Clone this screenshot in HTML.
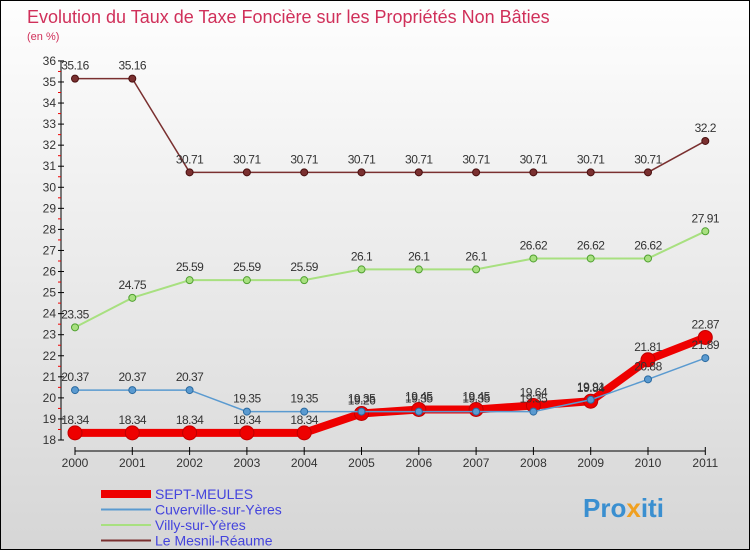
<!DOCTYPE html>
<html><head><meta charset="utf-8"><style>
body{margin:0;width:750px;height:550px;overflow:hidden;font-family:"Liberation Sans",sans-serif}
#wrap{position:relative;width:748px;height:548px;border:1px solid #000;background:linear-gradient(#fefefe,#d6d6d6)}
</style></head><body>
<div id="wrap">
<svg id="c" width="748" height="548">
<text x="26" y="22" font-size="18" fill="#d0305a">Evolution du Taux de Taxe Foncière sur les Propriétés Non Bâties</text>
<text x="26" y="39" font-size="11" fill="#d0305a">(en %)</text>
<g id="axes"></g><g id="series"></g><g id="legend"></g>
<text x="582" y="516" font-size="26" font-weight="bold" fill="#3a8fd0">Pro<tspan fill="#f0a020">x</tspan>iti</text>
</svg></div>
<script>
const years=["2000","2001","2002","2003","2004","2005","2006","2007","2008","2009","2010","2011"];
const yTicks=[18,19,20,21,22,23,24,25,26,27,28,29,30,31,32,33,34,35,36];
const sept=[18.34,18.34,18.34,18.34,18.34,19.26,19.45,19.45,19.64,19.84,21.81,22.87];
const cuver=[20.37,20.37,20.37,19.35,19.35,19.35,19.35,19.35,19.35,19.91,20.88,21.89];
const villy=[23.35,24.75,25.59,25.59,25.59,26.1,26.1,26.1,26.62,26.62,26.62,27.91];
const mesnil=[35.16,35.16,30.71,30.71,30.71,30.71,30.71,30.71,30.71,30.71,30.71,32.2];
const NS="http://www.w3.org/2000/svg";
const X=i=>74+i*57.3, Y=v=>439-(v-18)*21.06;
function mk(t,a,p){const e=document.createElementNS(NS,t);for(const k in a)e.setAttribute(k,a[k]);p.appendChild(e);return e;}
const ax=document.getElementById('axes');
const yl=mk('line',{x1:60,y1:Y(36),x2:60,y2:Y(18),stroke:'#000'},ax);


yTicks.forEach(v=>{
 mk('line',{x1:57,x2:63,y1:Y(v),y2:Y(v),stroke:'#000'},ax);
 if(v<36)mk('line',{x1:57,x2:60,y1:Y(v+0.5),y2:Y(v+0.5),stroke:'#e00'},ax);
 const t=mk('text',{x:55,y:Y(v)+4,'font-size':12,'text-anchor':'end',fill:'#333'},ax);t.textContent=v;
 
 
});
const xl=mk('line',{x1:X(0),x2:X(11),y1:450,y2:450,stroke:'#000'},ax);


years.forEach((y,i)=>{
 mk('line',{x1:X(i),x2:X(i),y1:446,y2:454,stroke:'#000'},ax);
 const t=mk('text',{x:X(i),y:466,'font-size':12,'text-anchor':'middle',fill:'#333'},ax);t.textContent=y;
 
 
});
const sg=document.getElementById('series');
function draw(data,color,w,r,name,dark){
 const g=mk('g',{},sg);
 
 
 mk('polyline',{points:data.map((v,i)=>X(i)+','+Y(v)).join(' '),fill:'none',stroke:color,'stroke-width':w},g);
 data.forEach((v,i)=>{
  const c=mk('circle',{cx:X(i),cy:Y(v),r:r,fill:color,stroke:dark,'stroke-width':1},g);
  
  
  const t=mk('text',{x:X(i),y:Y(v)-9,'font-size':12,'text-anchor':'middle',fill:'#333','letter-spacing':'-0.5'},g);t.textContent=v;
 });
}
draw(mesnil,'#7a3030',1.5,3.5,'le-mesnil-reaume','#4a1010');
draw(villy,'#a8e080',2,3.5,'villy-sur-yeres','#50a030');
draw(sept,'#ee0000',8,7,'sept-meules','#c00000');
draw(cuver,'#5a9ad0',1.5,3.5,'cuverville-sur-yeres','#2a6aa0');
const lg=document.getElementById('legend');
[["SEPT-MEULES","#ee0000",8],["Cuverville-sur-Yères","#5a9ad0",2],["Villy-sur-Yères","#a8e080",2],["Le Mesnil-Réaume","#7a3030",2]].forEach((d,i)=>{
 const y=493+i*15.5;
 const g=mk('g',{},lg);
 
 
 mk('line',{x1:100,x2:150,y1:y,y2:y,stroke:d[1],'stroke-width':d[2]},g);
 const t=mk('text',{x:154,y:y+5,'font-size':14,fill:'#4444dd'},g);t.textContent=d[0];
});
</script>
</body></html>
